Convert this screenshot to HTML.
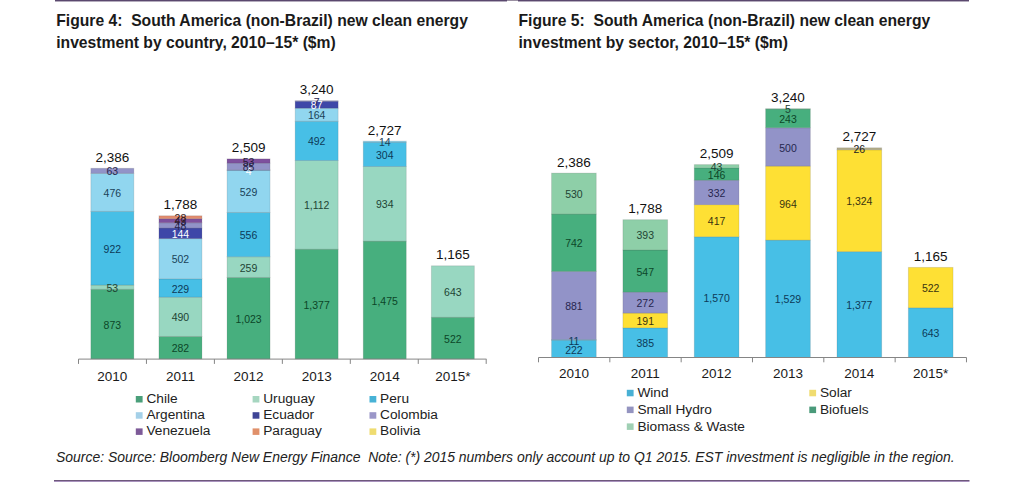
<!DOCTYPE html>
<html><head><meta charset="utf-8"><style>
html,body{margin:0;padding:0;background:#fff;width:1024px;height:482px;overflow:hidden}
svg{display:block;font-family:"Liberation Sans", sans-serif}
</style></head><body>
<svg width="1024" height="482" viewBox="0 0 1024 482">
<rect x="0" y="0" width="1024" height="482" fill="#fff"/>
<rect x="55" y="0" width="452" height="1.45" fill="#5a486e"/>
<rect x="518" y="0" width="451" height="1.45" fill="#5a486e"/>
<rect x="507" y="0" width="11" height="1" fill="#9a90a2"/>
<rect x="54" y="480" width="915.5" height="1" fill="#6e587c"/>
<rect x="54" y="481" width="915.5" height="1" fill="#a892bd"/>
<text x="56.2" y="25.5" font-size="15.7" font-weight="bold" fill="#1a1a1a" xml:space="preserve">Figure 4:  South America (non-Brazil) new clean energy</text>
<text x="56.2" y="48.2" font-size="15.7" font-weight="bold" fill="#1a1a1a">investment by country, 2010–15* ($m)</text>
<text x="518.5" y="25.5" font-size="15.7" font-weight="bold" fill="#1a1a1a" xml:space="preserve">Figure 5:  South America (non-Brazil) new clean energy</text>
<text x="518.5" y="48.2" font-size="15.7" font-weight="bold" fill="#1a1a1a">investment by sector, 2010–15* ($m)</text>
<rect x="90.85" y="289.26" width="43" height="69.74" fill="#47af7e" stroke="rgba(60,60,60,0.16)" stroke-width="0.9"/>
<rect x="90.85" y="285.02" width="43" height="4.23" fill="#98d7c1" stroke="rgba(60,60,60,0.16)" stroke-width="0.9"/>
<rect x="90.85" y="211.36" width="43" height="73.66" fill="#47bfe6" stroke="rgba(60,60,60,0.16)" stroke-width="0.9"/>
<rect x="90.85" y="173.33" width="43" height="38.03" fill="#91d6ef" stroke="rgba(60,60,60,0.16)" stroke-width="0.9"/>
<rect x="90.85" y="168.30" width="43" height="5.03" fill="#9293c8" stroke="rgba(60,60,60,0.16)" stroke-width="0.9"/>
<text x="112.35" y="161.70" fill="#111" font-size="13.5" text-anchor="middle">2,386</text>
<text x="112.35" y="380.6" fill="#1a1a1a" font-size="13.5" text-anchor="middle">2010</text>
<rect x="158.95" y="336.41" width="43" height="22.59" fill="#47af7e" stroke="rgba(60,60,60,0.16)" stroke-width="0.9"/>
<rect x="158.95" y="297.17" width="43" height="39.24" fill="#98d7c1" stroke="rgba(60,60,60,0.16)" stroke-width="0.9"/>
<rect x="158.95" y="278.83" width="43" height="18.34" fill="#47bfe6" stroke="rgba(60,60,60,0.16)" stroke-width="0.9"/>
<rect x="158.95" y="238.63" width="43" height="40.20" fill="#91d6ef" stroke="rgba(60,60,60,0.16)" stroke-width="0.9"/>
<rect x="158.95" y="228.05" width="43" height="10.57" fill="#3e47a8" stroke="rgba(60,60,60,0.16)" stroke-width="0.9"/>
<rect x="158.95" y="222.77" width="43" height="5.29" fill="#9293c8" stroke="rgba(60,60,60,0.16)" stroke-width="0.9"/>
<rect x="158.95" y="218.68" width="43" height="4.08" fill="#7e509e" stroke="rgba(60,60,60,0.16)" stroke-width="0.9"/>
<rect x="158.95" y="215.80" width="43" height="2.88" fill="#e28c6e" stroke="rgba(60,60,60,0.16)" stroke-width="0.9"/>
<text x="180.45" y="209.20" fill="#111" font-size="13.5" text-anchor="middle">1,788</text>
<text x="180.45" y="380.6" fill="#1a1a1a" font-size="13.5" text-anchor="middle">2011</text>
<rect x="227.05" y="277.41" width="43" height="81.59" fill="#47af7e" stroke="rgba(60,60,60,0.16)" stroke-width="0.9"/>
<rect x="227.05" y="256.76" width="43" height="20.66" fill="#98d7c1" stroke="rgba(60,60,60,0.16)" stroke-width="0.9"/>
<rect x="227.05" y="212.41" width="43" height="44.34" fill="#47bfe6" stroke="rgba(60,60,60,0.16)" stroke-width="0.9"/>
<rect x="227.05" y="170.22" width="43" height="42.19" fill="#91d6ef" stroke="rgba(60,60,60,0.16)" stroke-width="0.9"/>
<rect x="227.05" y="169.91" width="43" height="0.32" fill="#3e47a8" stroke="rgba(60,60,60,0.16)" stroke-width="0.9"/>
<rect x="227.05" y="163.13" width="43" height="6.78" fill="#9293c8" stroke="rgba(60,60,60,0.16)" stroke-width="0.9"/>
<rect x="227.05" y="158.90" width="43" height="4.23" fill="#7e509e" stroke="rgba(60,60,60,0.16)" stroke-width="0.9"/>
<text x="248.55" y="152.30" fill="#111" font-size="13.5" text-anchor="middle">2,509</text>
<text x="248.55" y="380.6" fill="#1a1a1a" font-size="13.5" text-anchor="middle">2012</text>
<rect x="295.15" y="249.19" width="43" height="109.81" fill="#47af7e" stroke="rgba(60,60,60,0.16)" stroke-width="0.9"/>
<rect x="295.15" y="160.51" width="43" height="88.68" fill="#98d7c1" stroke="rgba(60,60,60,0.16)" stroke-width="0.9"/>
<rect x="295.15" y="121.27" width="43" height="39.24" fill="#47bfe6" stroke="rgba(60,60,60,0.16)" stroke-width="0.9"/>
<rect x="295.15" y="108.20" width="43" height="13.08" fill="#91d6ef" stroke="rgba(60,60,60,0.16)" stroke-width="0.9"/>
<rect x="295.15" y="101.26" width="43" height="6.94" fill="#3e47a8" stroke="rgba(60,60,60,0.16)" stroke-width="0.9"/>
<rect x="295.15" y="100.70" width="43" height="0.56" fill="#9293c8" stroke="rgba(60,60,60,0.16)" stroke-width="0.9"/>
<text x="316.65" y="94.10" fill="#111" font-size="13.5" text-anchor="middle">3,240</text>
<text x="316.65" y="380.6" fill="#1a1a1a" font-size="13.5" text-anchor="middle">2013</text>
<rect x="363.25" y="241.14" width="43" height="117.86" fill="#47af7e" stroke="rgba(60,60,60,0.16)" stroke-width="0.9"/>
<rect x="363.25" y="166.51" width="43" height="74.63" fill="#98d7c1" stroke="rgba(60,60,60,0.16)" stroke-width="0.9"/>
<rect x="363.25" y="142.22" width="43" height="24.29" fill="#47bfe6" stroke="rgba(60,60,60,0.16)" stroke-width="0.9"/>
<rect x="363.25" y="141.10" width="43" height="1.12" fill="#91d6ef" stroke="rgba(60,60,60,0.16)" stroke-width="0.9"/>
<text x="384.75" y="134.50" fill="#111" font-size="13.5" text-anchor="middle">2,727</text>
<text x="384.75" y="380.6" fill="#1a1a1a" font-size="13.5" text-anchor="middle">2014</text>
<rect x="431.35" y="317.24" width="43" height="41.76" fill="#47af7e" stroke="rgba(60,60,60,0.16)" stroke-width="0.9"/>
<rect x="431.35" y="265.80" width="43" height="51.44" fill="#98d7c1" stroke="rgba(60,60,60,0.16)" stroke-width="0.9"/>
<text x="452.85" y="259.20" fill="#111" font-size="13.5" text-anchor="middle">1,165</text>
<text x="452.85" y="380.6" fill="#1a1a1a" font-size="13.5" text-anchor="middle">2015*</text>
<text x="112.35" y="328.73" fill="#0c4628" font-size="10.5" text-anchor="middle">873</text>
<text x="112.35" y="291.74" fill="#1e4434" font-size="10.5" text-anchor="middle">53</text>
<text x="112.35" y="252.79" fill="#0d3a58" font-size="10.5" text-anchor="middle">922</text>
<text x="112.35" y="196.95" fill="#1a4258" font-size="10.5" text-anchor="middle">476</text>
<text x="112.35" y="175.42" fill="#26264f" font-size="10.5" text-anchor="middle">63</text>
<text x="180.45" y="352.31" fill="#0c4628" font-size="10.5" text-anchor="middle">282</text>
<text x="180.45" y="321.39" fill="#1e4434" font-size="10.5" text-anchor="middle">490</text>
<text x="180.45" y="292.60" fill="#0d3a58" font-size="10.5" text-anchor="middle">229</text>
<text x="180.45" y="263.33" fill="#1a4258" font-size="10.5" text-anchor="middle">502</text>
<text x="180.45" y="237.94" fill="#ffffff" font-size="10.5" text-anchor="middle">144</text>
<text x="180.45" y="230.01" fill="#26264f" font-size="10.5" text-anchor="middle">48</text>
<text x="180.45" y="225.33" fill="#2a1a3a" font-size="10.5" text-anchor="middle">43</text>
<text x="180.45" y="221.84" fill="#3a2020" font-size="10.5" text-anchor="middle">28</text>
<text x="248.55" y="322.81" fill="#0c4628" font-size="10.5" text-anchor="middle">1,023</text>
<text x="248.55" y="271.68" fill="#1e4434" font-size="10.5" text-anchor="middle">259</text>
<text x="248.55" y="239.19" fill="#0d3a58" font-size="10.5" text-anchor="middle">556</text>
<text x="248.55" y="195.92" fill="#1a4258" font-size="10.5" text-anchor="middle">529</text>
<text x="248.55" y="174.67" fill="#ffffff" font-size="10.5" text-anchor="middle">4</text>
<text x="248.55" y="171.12" fill="#26264f" font-size="10.5" text-anchor="middle">85</text>
<text x="248.55" y="165.61" fill="#2a1a3a" font-size="10.5" text-anchor="middle">53</text>
<text x="316.65" y="308.69" fill="#0c4628" font-size="10.5" text-anchor="middle">1,377</text>
<text x="316.65" y="209.45" fill="#1e4434" font-size="10.5" text-anchor="middle">1,112</text>
<text x="316.65" y="145.49" fill="#0d3a58" font-size="10.5" text-anchor="middle">492</text>
<text x="316.65" y="119.34" fill="#1a4258" font-size="10.5" text-anchor="middle">164</text>
<text x="316.65" y="109.33" fill="#ffffff" font-size="10.5" text-anchor="middle">87</text>
<text x="316.65" y="105.58" fill="#26264f" font-size="10.5" text-anchor="middle">7</text>
<text x="384.75" y="304.67" fill="#0c4628" font-size="10.5" text-anchor="middle">1,475</text>
<text x="384.75" y="208.43" fill="#1e4434" font-size="10.5" text-anchor="middle">934</text>
<text x="384.75" y="158.96" fill="#0d3a58" font-size="10.5" text-anchor="middle">304</text>
<text x="384.75" y="146.26" fill="#1a4258" font-size="10.5" text-anchor="middle">14</text>
<text x="452.85" y="342.72" fill="#0c4628" font-size="10.5" text-anchor="middle">522</text>
<text x="452.85" y="296.12" fill="#1e4434" font-size="10.5" text-anchor="middle">643</text>
<path d="M78.5 359.1H486.5" stroke="#858585" stroke-width="1" fill="none"/>
<path d="M78.50 359.1V363.90000000000003" stroke="#858585" stroke-width="1" fill="none"/>
<path d="M146.45 359.1V363.90000000000003" stroke="#858585" stroke-width="1" fill="none"/>
<path d="M214.40 359.1V363.90000000000003" stroke="#858585" stroke-width="1" fill="none"/>
<path d="M282.35 359.1V363.90000000000003" stroke="#858585" stroke-width="1" fill="none"/>
<path d="M350.30 359.1V363.90000000000003" stroke="#858585" stroke-width="1" fill="none"/>
<path d="M418.25 359.1V363.90000000000003" stroke="#858585" stroke-width="1" fill="none"/>
<path d="M486.20 359.1V363.90000000000003" stroke="#858585" stroke-width="1" fill="none"/>
<rect x="551.55" y="340.34" width="44.7" height="17.16" fill="#47bfe6" stroke="rgba(60,60,60,0.16)" stroke-width="0.9"/>
<rect x="551.55" y="339.49" width="44.7" height="0.85" fill="#47bfe6" stroke="rgba(60,60,60,0.16)" stroke-width="0.9"/>
<rect x="551.55" y="271.41" width="44.7" height="68.09" fill="#9293c8" stroke="rgba(60,60,60,0.16)" stroke-width="0.9"/>
<rect x="551.55" y="214.06" width="44.7" height="57.34" fill="#47af7e" stroke="rgba(60,60,60,0.16)" stroke-width="0.9"/>
<rect x="551.55" y="173.10" width="44.7" height="40.96" fill="#8ecfa8" stroke="rgba(60,60,60,0.16)" stroke-width="0.9"/>
<text x="573.90" y="166.50" fill="#111" font-size="13.5" text-anchor="middle">2,386</text>
<text x="573.90" y="378.2" fill="#1a1a1a" font-size="13.5" text-anchor="middle">2010</text>
<rect x="622.91" y="327.83" width="44.7" height="29.67" fill="#47bfe6" stroke="rgba(60,60,60,0.16)" stroke-width="0.9"/>
<rect x="622.91" y="313.11" width="44.7" height="14.72" fill="#fee034" stroke="rgba(60,60,60,0.16)" stroke-width="0.9"/>
<rect x="622.91" y="292.15" width="44.7" height="20.96" fill="#9293c8" stroke="rgba(60,60,60,0.16)" stroke-width="0.9"/>
<rect x="622.91" y="249.99" width="44.7" height="42.16" fill="#47af7e" stroke="rgba(60,60,60,0.16)" stroke-width="0.9"/>
<rect x="622.91" y="219.70" width="44.7" height="30.29" fill="#8ecfa8" stroke="rgba(60,60,60,0.16)" stroke-width="0.9"/>
<text x="645.26" y="213.10" fill="#111" font-size="13.5" text-anchor="middle">1,788</text>
<text x="645.26" y="378.2" fill="#1a1a1a" font-size="13.5" text-anchor="middle">2011</text>
<rect x="694.27" y="236.75" width="44.7" height="120.75" fill="#47bfe6" stroke="rgba(60,60,60,0.16)" stroke-width="0.9"/>
<rect x="694.27" y="204.67" width="44.7" height="32.07" fill="#fee034" stroke="rgba(60,60,60,0.16)" stroke-width="0.9"/>
<rect x="694.27" y="180.21" width="44.7" height="24.46" fill="#9293c8" stroke="rgba(60,60,60,0.16)" stroke-width="0.9"/>
<rect x="694.27" y="167.91" width="44.7" height="12.31" fill="#47af7e" stroke="rgba(60,60,60,0.16)" stroke-width="0.9"/>
<rect x="694.27" y="164.60" width="44.7" height="3.31" fill="#8ecfa8" stroke="rgba(60,60,60,0.16)" stroke-width="0.9"/>
<text x="716.62" y="158.00" fill="#111" font-size="13.5" text-anchor="middle">2,509</text>
<text x="716.62" y="378.2" fill="#1a1a1a" font-size="13.5" text-anchor="middle">2012</text>
<rect x="765.63" y="240.12" width="44.7" height="117.38" fill="#47bfe6" stroke="rgba(60,60,60,0.16)" stroke-width="0.9"/>
<rect x="765.63" y="166.12" width="44.7" height="74.00" fill="#fee034" stroke="rgba(60,60,60,0.16)" stroke-width="0.9"/>
<rect x="765.63" y="127.74" width="44.7" height="38.38" fill="#9293c8" stroke="rgba(60,60,60,0.16)" stroke-width="0.9"/>
<rect x="765.63" y="109.08" width="44.7" height="18.65" fill="#47af7e" stroke="rgba(60,60,60,0.16)" stroke-width="0.9"/>
<rect x="765.63" y="108.70" width="44.7" height="0.38" fill="#8ecfa8" stroke="rgba(60,60,60,0.16)" stroke-width="0.9"/>
<text x="787.98" y="102.10" fill="#111" font-size="13.5" text-anchor="middle">3,240</text>
<text x="787.98" y="378.2" fill="#1a1a1a" font-size="13.5" text-anchor="middle">2013</text>
<rect x="836.99" y="251.61" width="44.7" height="105.89" fill="#47bfe6" stroke="rgba(60,60,60,0.16)" stroke-width="0.9"/>
<rect x="836.99" y="149.80" width="44.7" height="101.81" fill="#fee034" stroke="rgba(60,60,60,0.16)" stroke-width="0.9"/>
<rect x="836.99" y="147.80" width="44.7" height="2.00" fill="#b4ad8a" stroke="rgba(60,60,60,0.16)" stroke-width="0.9"/>
<text x="859.34" y="141.20" fill="#111" font-size="13.5" text-anchor="middle">2,727</text>
<text x="859.34" y="378.2" fill="#1a1a1a" font-size="13.5" text-anchor="middle">2014</text>
<rect x="908.35" y="307.77" width="44.7" height="49.73" fill="#47bfe6" stroke="rgba(60,60,60,0.16)" stroke-width="0.9"/>
<rect x="908.35" y="267.40" width="44.7" height="40.37" fill="#fee034" stroke="rgba(60,60,60,0.16)" stroke-width="0.9"/>
<text x="930.70" y="260.80" fill="#111" font-size="13.5" text-anchor="middle">1,165</text>
<text x="930.70" y="378.2" fill="#1a1a1a" font-size="13.5" text-anchor="middle">2015*</text>
<text x="573.90" y="353.52" fill="#0d3a58" font-size="10.5" text-anchor="middle">222</text>
<text x="573.90" y="344.52" fill="#0d3a58" font-size="10.5" text-anchor="middle">11</text>
<text x="573.90" y="310.05" fill="#26264f" font-size="10.5" text-anchor="middle">881</text>
<text x="573.90" y="247.33" fill="#0c4628" font-size="10.5" text-anchor="middle">742</text>
<text x="573.90" y="198.18" fill="#1e4434" font-size="10.5" text-anchor="middle">530</text>
<text x="645.26" y="347.26" fill="#0d3a58" font-size="10.5" text-anchor="middle">385</text>
<text x="645.26" y="325.07" fill="#3a3410" font-size="10.5" text-anchor="middle">191</text>
<text x="645.26" y="307.23" fill="#26264f" font-size="10.5" text-anchor="middle">272</text>
<text x="645.26" y="275.67" fill="#0c4628" font-size="10.5" text-anchor="middle">547</text>
<text x="645.26" y="239.44" fill="#1e4434" font-size="10.5" text-anchor="middle">393</text>
<text x="716.62" y="301.72" fill="#0d3a58" font-size="10.5" text-anchor="middle">1,570</text>
<text x="716.62" y="225.31" fill="#3a3410" font-size="10.5" text-anchor="middle">417</text>
<text x="716.62" y="197.04" fill="#26264f" font-size="10.5" text-anchor="middle">332</text>
<text x="716.62" y="178.66" fill="#0c4628" font-size="10.5" text-anchor="middle">146</text>
<text x="716.62" y="170.85" fill="#1e4434" font-size="10.5" text-anchor="middle">43</text>
<text x="787.98" y="303.41" fill="#0d3a58" font-size="10.5" text-anchor="middle">1,529</text>
<text x="787.98" y="207.72" fill="#3a3410" font-size="10.5" text-anchor="middle">964</text>
<text x="787.98" y="151.53" fill="#26264f" font-size="10.5" text-anchor="middle">500</text>
<text x="787.98" y="123.01" fill="#0c4628" font-size="10.5" text-anchor="middle">243</text>
<text x="787.98" y="113.49" fill="#1e4434" font-size="10.5" text-anchor="middle">5</text>
<text x="859.34" y="309.16" fill="#0d3a58" font-size="10.5" text-anchor="middle">1,377</text>
<text x="859.34" y="205.31" fill="#3a3410" font-size="10.5" text-anchor="middle">1,324</text>
<text x="859.34" y="153.40" fill="#222" font-size="10.5" text-anchor="middle">26</text>
<text x="930.70" y="337.24" fill="#0d3a58" font-size="10.5" text-anchor="middle">643</text>
<text x="930.70" y="292.19" fill="#3a3410" font-size="10.5" text-anchor="middle">522</text>
<path d="M538.5 357.5H966.5" stroke="#858585" stroke-width="1" fill="none"/>
<path d="M538.50 357.5V362.3" stroke="#858585" stroke-width="1" fill="none"/>
<path d="M609.83 357.5V362.3" stroke="#858585" stroke-width="1" fill="none"/>
<path d="M681.16 357.5V362.3" stroke="#858585" stroke-width="1" fill="none"/>
<path d="M752.49 357.5V362.3" stroke="#858585" stroke-width="1" fill="none"/>
<path d="M823.82 357.5V362.3" stroke="#858585" stroke-width="1" fill="none"/>
<path d="M895.15 357.5V362.3" stroke="#858585" stroke-width="1" fill="none"/>
<path d="M966.48 357.5V362.3" stroke="#858585" stroke-width="1" fill="none"/>
<rect x="135.80" y="396.00" width="6.8" height="6.5" fill="#4a9f7a"/>
<text x="146.40" y="402.60" fill="#222" font-size="13.7">Chile</text>
<rect x="252.60" y="396.00" width="6.8" height="6.5" fill="#a6d6c0"/>
<text x="263.20" y="402.60" fill="#222" font-size="13.7">Uruguay</text>
<rect x="369.50" y="396.00" width="6.8" height="6.5" fill="#47b2d6"/>
<text x="380.10" y="402.60" fill="#222" font-size="13.7">Peru</text>
<rect x="135.80" y="412.20" width="6.8" height="6.5" fill="#a4d0e8"/>
<text x="146.40" y="418.80" fill="#222" font-size="13.7">Argentina</text>
<rect x="252.60" y="412.20" width="6.8" height="6.5" fill="#3f4596"/>
<text x="263.20" y="418.80" fill="#222" font-size="13.7">Ecuador</text>
<rect x="369.50" y="412.20" width="6.8" height="6.5" fill="#9a96c8"/>
<text x="380.10" y="418.80" fill="#222" font-size="13.7">Colombia</text>
<rect x="135.80" y="428.40" width="6.8" height="6.5" fill="#7d5a98"/>
<text x="146.40" y="435.00" fill="#222" font-size="13.7">Venezuela</text>
<rect x="252.60" y="428.40" width="6.8" height="6.5" fill="#e0906a"/>
<text x="263.20" y="435.00" fill="#222" font-size="13.7">Paraguay</text>
<rect x="369.50" y="428.40" width="6.8" height="6.5" fill="#efdc70"/>
<text x="380.10" y="435.00" fill="#222" font-size="13.7">Bolivia</text>
<rect x="626.80" y="389.80" width="6.8" height="6.5" fill="#48b0d4"/>
<text x="637.40" y="397.30" fill="#222" font-size="13.7">Wind</text>
<rect x="809.30" y="389.80" width="6.8" height="6.5" fill="#f0dc70"/>
<text x="819.90" y="397.30" fill="#222" font-size="13.7">Solar</text>
<rect x="626.80" y="406.60" width="6.8" height="6.5" fill="#9494c0"/>
<text x="637.40" y="414.10" fill="#222" font-size="13.7">Small Hydro</text>
<rect x="809.30" y="406.60" width="6.8" height="6.5" fill="#4a9a7a"/>
<text x="819.90" y="414.10" fill="#222" font-size="13.7">Biofuels</text>
<rect x="626.80" y="423.40" width="6.8" height="6.5" fill="#a0d0b4"/>
<text x="637.40" y="430.90" fill="#222" font-size="13.7">Biomass &amp; Waste</text>
<text x="56" y="461.5" font-size="13.95" font-style="italic" fill="#222" xml:space="preserve">Source: Source: Bloomberg New Energy Finance  Note: (*) 2015 numbers only account up to Q1 2015. EST investment is negligible in the region.</text>
</svg>
</body></html>
